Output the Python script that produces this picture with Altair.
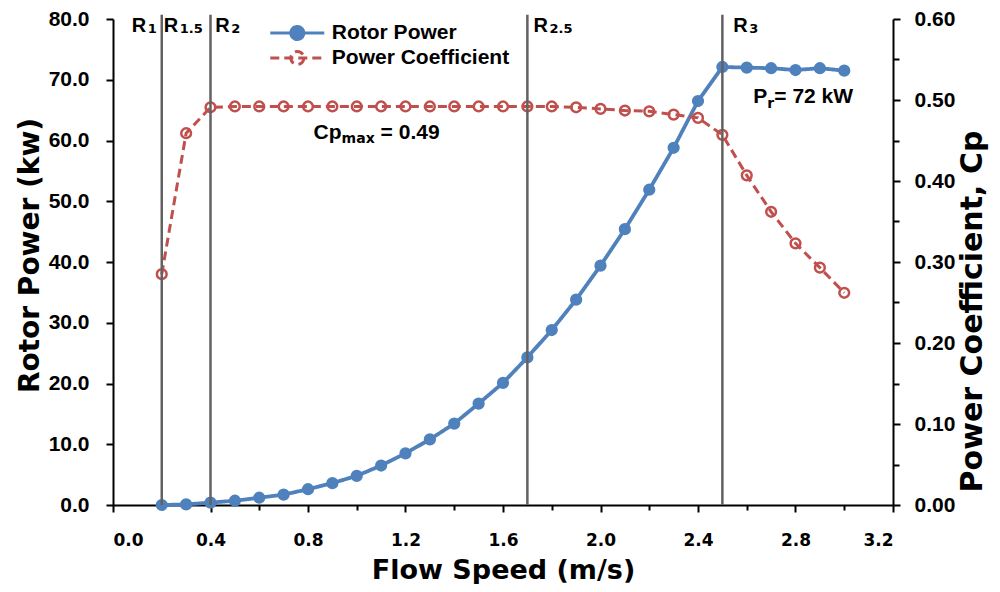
import altair as alt
import pandas as pd

# ---------------- data ----------------
speed = [0.2, 0.3, 0.4, 0.5, 0.6, 0.7, 0.8, 0.9, 1.0, 1.1, 1.2, 1.3, 1.4, 1.5,
         1.6, 1.7, 1.8, 1.9, 2.0, 2.1, 2.2, 2.3, 2.4, 2.5, 2.6, 2.7, 2.8, 2.9, 3.0]
rotor_power = [0.0, 0.1, 0.4, 0.7, 1.2, 1.7, 2.6, 3.6, 4.8, 6.5, 8.5, 10.8, 13.4, 16.7,
               20.1, 24.3, 28.8, 33.8, 39.4, 45.4, 51.9, 58.8, 66.5, 72.1, 72.0, 71.9, 71.6, 71.9, 71.5]
power_coeff = [0.285, 0.459, 0.491, 0.492, 0.492, 0.492, 0.492, 0.492, 0.492, 0.492, 0.492,
               0.492, 0.492, 0.492, 0.492, 0.492, 0.492, 0.491, 0.489, 0.487, 0.486, 0.482,
               0.478, 0.457, 0.407, 0.362, 0.323, 0.293, 0.262]

series_names = ["Rotor Power", "Power Coefficient"]

x_ticks = [0.0, 0.1, 0.2, 0.3, 0.4, 0.5, 0.6, 0.7, 0.8, 0.9, 1.0, 1.1, 1.2, 1.3, 1.4, 1.5, 1.6,
           1.7, 1.8, 1.9, 2.0, 2.1, 2.2, 2.3, 2.4, 2.5, 2.6, 2.7, 2.8, 2.9, 3.0, 3.1, 3.2]
power_ticks = [0, 10, 20, 30, 40, 50, 60, 70, 80]
cp_ticks = [0.0, 0.05, 0.1, 0.15, 0.2, 0.25, 0.3, 0.35, 0.4, 0.45, 0.5, 0.55, 0.6]

region_x = [0.2, 0.4, 1.7, 2.5]          # vertical region boundaries
region_top = 80.7                         # top of the boundary lines (kW units)
region_label_x = [0.077, 0.208, 0.419, 1.725, 2.545]
region_label_y = 77.9
region_subs = ["1", "1.5", "2", "2.5", "3"]

cpmax_x, cpmax_y = 0.823, 60.2
cpmax_main, cpmax_sub, cpmax_rest = "Cp", "max", "= 0.49"
pr_x, pr_y = 2.627, 66.1
pr_main, pr_sub, pr_rest = "P", "r", "= 72 kW"

# ---------------- styling ----------------
ARIAL = "Liberation Sans, Arial, Helvetica, sans-serif"
DEJAVU = "DejaVu Sans, Verdana, sans-serif"
BLUE = "#4F81BD"
RED = "#C0504D"
GRAY = "#626262"

df_p = pd.DataFrame({"speed": speed, "value": rotor_power, "series": series_names[0]})
df_c = pd.DataFrame({"speed": speed, "value": power_coeff, "series": series_names[1]})

legend = alt.Legend(
    title=None, orient="none", legendX=173.8, legendY=3.5, padding=0,
    symbolType="M-5.4,0H5.4M1.3,0A1.3,1.3,0,1,1,-1.3,0A1.3,1.3,0,1,1,1.3,0Z",
    symbolSize=100, symbolStrokeWidth=3, labelFont=ARIAL, labelFontSize=21,
    labelFontWeight="bold", labelColor="black", labelOffset=24, rowPadding=0,
    symbolOpacity=1, labelLimit=0,
)
stroke_enc = alt.Stroke("series:N", scale=alt.Scale(domain=series_names, range=[BLUE, RED]),
                        legend=legend)
fill_enc = alt.Fill("series:N", scale=alt.Scale(domain=series_names, range=[BLUE, "transparent"]),
                    legend=legend)
dash_enc = alt.StrokeDash("series:N", scale=alt.Scale(domain=series_names, range=[[1, 0], [9, 5]]),
                          legend=legend)

x_enc = alt.X(
    "speed:Q",
    scale=alt.Scale(domain=[0, 3.2], nice=False, zero=False),
    axis=alt.Axis(
        values=x_ticks, title="Flow Speed (m/s)",
        labelExpr="round(datum.value*10) % 4 == 0 ? format(datum.value, '.1f') : ''",
        tickSize={"condition": {"test": "round(datum.value*10) % 4 == 0", "value": 7}, "value": 5},
        labelFont=DEJAVU, labelFontSize=17, labelPadding=20, labelOverlap=False,
        titleFont=DEJAVU, titleFontSize=27, titlePadding=9,
    ),
)

p_y = alt.Y(
    "value:Q",
    scale=alt.Scale(domain=[0, 80], nice=False, zero=True),
    axis=alt.Axis(
        values=power_ticks, format=".1f", orient="left", title="Rotor Power (kw)",
        tickSize=7, labelFont=ARIAL, labelFontSize=21, labelPadding=17, labelOverlap=False,
        titleFont=DEJAVU, titleFontSize=28, titlePadding=4, titleY=236,
    ),
)
c_y = alt.Y(
    "value:Q",
    scale=alt.Scale(domain=[0, 0.6], nice=False, zero=True),
    axis=alt.Axis(
        values=cp_ticks, orient="right", title="Power Coefficient, Cp",
        labelExpr="round(datum.value*100) % 10 == 0 ? format(datum.value, '.2f') : ''",
        tickSize={"condition": {"test": "round(datum.value*100) % 10 == 0", "value": 7}, "value": 6},
        labelFont=ARIAL, labelFontSize=21, labelPadding=14, labelOverlap=False,
        titleFont=DEJAVU, titleFontSize=30, titlePadding=3, titleAngle=270, titleBaseline="top",
        titleY=292,
    ),
)

p_line = alt.Chart(df_p).mark_line(strokeWidth=3.8).encode(x=x_enc, y=p_y, stroke=stroke_enc,
                                                           strokeDash=dash_enc)
p_pts = alt.Chart(df_p).mark_point(shape="circle", size=105, strokeWidth=2, opacity=1, filled=True).encode(
    x=x_enc, y=p_y, stroke=stroke_enc, fill=fill_enc)
p_layer = alt.layer(p_line, p_pts)

c_line = alt.Chart(df_c).mark_line(strokeWidth=3).encode(x=x_enc, y=c_y, stroke=stroke_enc,
                                                         strokeDash=dash_enc)
c_pts = alt.Chart(df_c).mark_point(shape="circle", size=95, strokeWidth=2.5, opacity=1, filled=True).encode(
    x=x_enc, y=c_y, stroke=stroke_enc, fill=fill_enc)
c_layer = alt.layer(c_line, c_pts)

# annotation layer (kW units, own hidden y scale identical to the left one)
ann_scale = alt.Scale(domain=[0, 80], nice=False, zero=True)
df_rules = pd.DataFrame({"speed": region_x})
rules = alt.Chart(df_rules).mark_rule(color=GRAY, strokeWidth=2.5, clip=False).encode(
    x=alt.X("speed:Q"),
    y=alt.Y(datum=0, scale=ann_scale, axis=None),
    y2=alt.datum(region_top),
)
df_rl = pd.DataFrame({"speed": region_label_x, "main": ["R"] * len(region_subs), "sub": region_subs,
                      "yy": [region_label_y] * len(region_subs)})
r_main = alt.Chart(df_rl).mark_text(align="left", baseline="alphabetic", font=ARIAL, fontSize=20,
                                    fontWeight="bold", color="black").encode(
    x="speed:Q", y=alt.Y("yy:Q", scale=ann_scale, axis=None), text="main:N")
r_sub = alt.Chart(df_rl).mark_text(align="left", baseline="alphabetic", font=DEJAVU, fontSize=13,
                                   fontWeight="bold", color="black", dx=16, dy=1).encode(
    x="speed:Q", y=alt.Y("yy:Q", scale=ann_scale, axis=None), text="sub:N")

df_cp = pd.DataFrame({"speed": [cpmax_x], "yy": [cpmax_y], "main": [cpmax_main], "sub": [cpmax_sub],
                      "rest": [cpmax_rest]})
df_pr = pd.DataFrame({"speed": [pr_x], "yy": [pr_y], "main": [pr_main], "sub": [pr_sub],
                      "rest": [pr_rest]})


def sub_text(df, dx_sub, dx_rest, dy_sub):
    base = alt.Chart(df).encode(x="speed:Q", y=alt.Y("yy:Q", scale=ann_scale, axis=None))
    m = base.mark_text(align="left", baseline="alphabetic", font=ARIAL, fontSize=21,
                       fontWeight="bold", color="black").encode(text="main:N")
    s = base.mark_text(align="left", baseline="alphabetic", font=DEJAVU, fontSize=14,
                       fontWeight="bold", color="black", dx=dx_sub, dy=dy_sub).encode(text="sub:N")
    r = base.mark_text(align="left", baseline="alphabetic", font=ARIAL, fontSize=21,
                       fontWeight="bold", color="black", dx=dx_rest).encode(text="rest:N")
    return [m, s, r]


ann_layer = alt.layer(rules, r_main, r_sub, *sub_text(df_cp, 28, 67, 4), *sub_text(df_pr, 14, 21, 5))

chart = alt.layer(p_layer, c_layer, ann_layer).resolve_scale(y="independent").properties(
    width=780, height=486,
    autosize=alt.AutoSizeParams(type="none"),
    padding={"left": 105, "top": 11, "right": 99, "bottom": 79},
    background="white",
).configure_view(stroke=None).configure_axis(
    domainColor="black", domainWidth=2, tickColor="black", tickWidth=2, grid=False,
    labelColor="black", labelFontWeight="bold", titleColor="black", titleFontWeight="bold",
)

chart.save("out.html", embed_options={"renderer": "svg", "actions": False})
